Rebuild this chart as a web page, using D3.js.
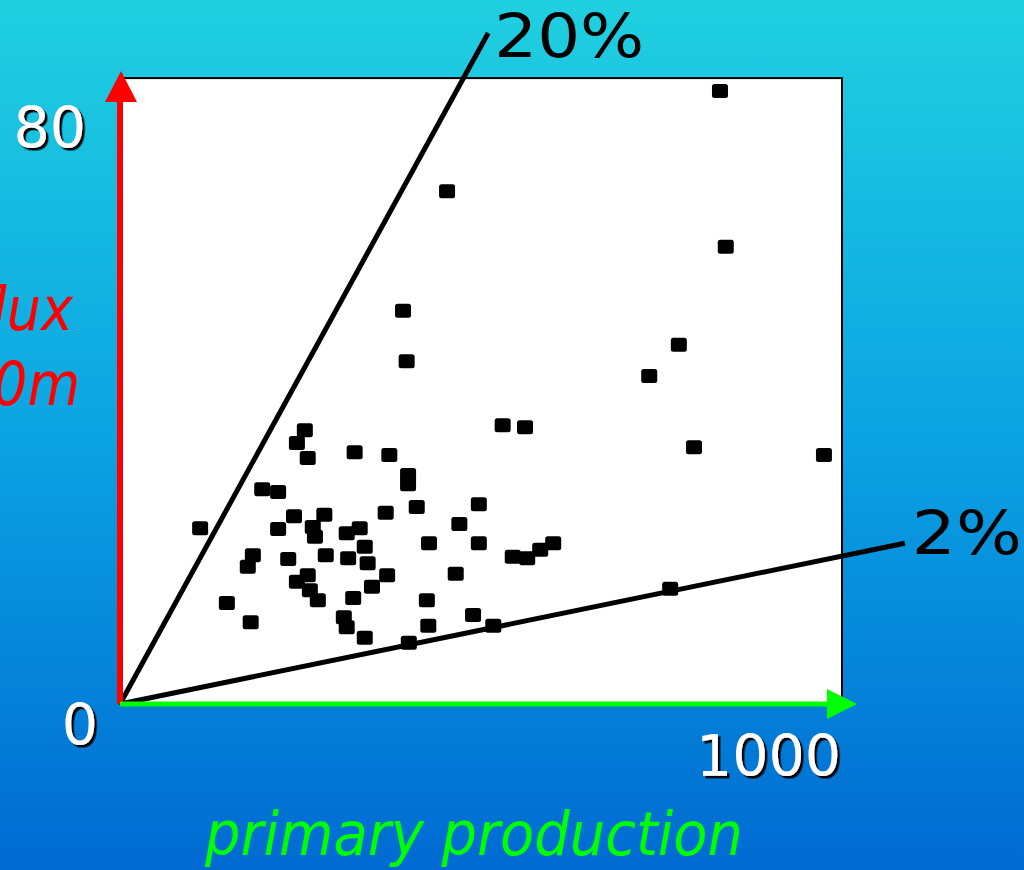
<!DOCTYPE html>
<html>
<head>
<meta charset="utf-8">
<script src="https://cdn.jsdelivr.net/npm/d3@7"></script>
<style>
  html, body { margin: 0; padding: 0; overflow: hidden; }
  svg { display: block; }
  .num { font-family: "DejaVu Sans", Verdana, sans-serif; }
</style>
</head>
<body>
<div id="chart"></div>
<script>
// primary production (x) and flux (y)
var production = [831, 453, 839, 392, 397, 774, 733, 795, 975, 530, 561, 762,
  256, 245, 260, 325, 373, 399, 399, 197, 219, 411, 368, 241, 283, 111, 219,
  267, 270, 314, 332, 428, 184, 177, 233, 285, 316, 339, 343, 370, 349, 245,
  260, 263, 274, 323, 148, 181, 310, 314, 339, 425, 427, 400, 497, 470, 497,
  544, 564, 582, 600, 465, 489, 517];
var flux = [86.2, 72.1, 64.3, 55.3, 48.2, 50.5, 46.1, 36.1, 35.0, 39.2, 38.9, 16.2,
  38.5, 36.7, 34.6, 35.4, 35.0, 32.2, 30.9, 30.2, 29.8, 27.7, 26.9, 26.4, 26.6, 24.7, 24.6,
  24.9, 23.5, 24.0, 24.7, 22.6, 20.9, 19.3, 20.4, 20.9, 20.5, 22.1, 19.8, 18.1, 16.5, 17.2,
  18.1, 16.0, 14.6, 14.9, 14.2, 11.5, 12.2, 10.8, 9.3, 14.6, 11.0, 8.6, 28.1, 25.3, 22.6,
  20.7, 20.5, 21.7, 22.6, 18.3, 12.5, 11.0];

// export ratio lines through the origin
var ratioLabels = ["20%", "2%"];
var ratioSlopes = [0.185, 0.0208];
var ratioEndX = [510, 1087];

// axis tick labels
var xTicks = [0, 1000];
var yTicks = [0, 80];
var yTop = 88;

var width = 1024, height = 870;

var svg = d3.select("#chart")
  .append("svg")
  .attr("width", width)
  .attr("height", height);

var defs = svg.append("defs");

// background gradient
var grad = defs.append("linearGradient")
  .attr("id", "bg")
  .attr("x1", 0).attr("y1", 0).attr("x2", 0).attr("y2", 1);
grad.append("stop").attr("offset", "0%").attr("stop-color", "#20d0e0");
grad.append("stop").attr("offset", "50%").attr("stop-color", "#0ba3e2");
grad.append("stop").attr("offset", "100%").attr("stop-color", "#006ad2");

// black drop shadow for the white tick labels
defs.append("filter")
  .attr("id", "shadow")
  .attr("x", "-10%").attr("y", "-10%").attr("width", "130%").attr("height", "130%")
  .append("feDropShadow")
  .attr("dx", 2.5).attr("dy", 2.5)
  .attr("stdDeviation", 0.4)
  .attr("flood-color", "#000")
  .attr("flood-opacity", 1);

svg.append("rect")
  .attr("width", width)
  .attr("height", height)
  .attr("fill", "url(#bg)");

var x = d3.scaleLinear().domain([0, 1000]).range([120, 842]);
var y = d3.scaleLinear().domain([0, 80]).range([704, 135]);

// white plot box
svg.append("rect")
  .attr("x", x(0))
  .attr("y", y(yTop))
  .attr("width", x(1000) - x(0))
  .attr("height", y(0) - y(yTop))
  .attr("fill", "#fff")
  .attr("stroke", "#000")
  .attr("stroke-width", 2);

// points
svg.append("g")
  .selectAll("rect")
  .data(production)
  .enter()
  .append("rect")
  .attr("x", function(d) { return x(d) - 8; })
  .attr("y", function(d, i) { return y(flux[i]) - 7; })
  .attr("width", 16)
  .attr("height", 14)
  .attr("rx", 2.5)
  .attr("fill", "#000");

// ratio lines
ratioLabels.forEach(function(lab, i) {
  var x2 = ratioEndX[i], y2 = ratioSlopes[i] * x2;
  svg.append("line")
    .attr("x1", x(0)).attr("y1", y(0))
    .attr("x2", x(x2)).attr("y2", y(y2))
    .attr("stroke", "#000")
    .attr("stroke-width", 5);
});

svg.append("text")
  .attr("class", "num")
  .attr("x", x(ratioEndX[0]) + 6)
  .attr("y", y(ratioSlopes[0] * ratioEndX[0]) + 24)
  .attr("font-size", 60)
  .attr("textLength", 150)
  .attr("lengthAdjust", "spacingAndGlyphs")
  .attr("fill", "#000")
  .text(ratioLabels[0]);

svg.append("text")
  .attr("class", "num")
  .attr("x", x(ratioEndX[1]) + 7)
  .attr("y", y(ratioSlopes[1] * ratioEndX[1]) + 11)
  .attr("font-size", 60)
  .attr("textLength", 110)
  .attr("lengthAdjust", "spacingAndGlyphs")
  .attr("fill", "#000")
  .text(ratioLabels[1]);

// y axis arrow (red)
svg.append("line")
  .attr("x1", x(0)).attr("y1", y(0))
  .attr("x2", x(0)).attr("y2", 100)
  .attr("stroke", "#ff0000")
  .attr("stroke-width", 6);
svg.append("path")
  .attr("d", "M" + (x(0) - 15) + ",102L" + (x(0) + 1) + ",71L" + (x(0) + 17) + ",102Z")
  .attr("fill", "#ff0000");

// x axis arrow (green)
svg.append("line")
  .attr("x1", x(0)).attr("y1", y(0))
  .attr("x2", 830).attr("y2", y(0))
  .attr("stroke", "#00ff00")
  .attr("stroke-width", 5);
svg.append("path")
  .attr("d", "M827," + (y(0) - 15) + "L857," + y(0) + "L827," + (y(0) + 15) + "Z")
  .attr("fill", "#00ff00");

// tick labels, white with a black shadow
function tickText(tx, ty, txt) {
  svg.append("text")
    .attr("class", "num")
    .attr("x", tx)
    .attr("y", ty)
    .attr("text-anchor", "end")
    .attr("font-size", 57)
    .attr("fill", "#fff")
    .attr("filter", "url(#shadow)")
    .text(txt);
}
tickText(86, y(yTicks[1]) + 13, yTicks[1]);
tickText(98, y(yTicks[0]) + 41, yTicks[0]);
tickText(x(xTicks[1]) - 1, 776, xTicks[1]);

// axis titles
svg.append("text")
  .attr("x", 205)
  .attr("y", 855)
  .attr("font-family", "'DejaVu Sans', Verdana, sans-serif")
  .attr("font-style", "italic")
  .attr("font-size", 60)
  .attr("textLength", 538)
  .attr("lengthAdjust", "spacingAndGlyphs")
  .attr("fill", "#00ff00")
  .text("primary production");

// y title runs off the left edge, as in the original slide
var yScaleX = 0.9;
var yTitle = svg.append("text")
  .attr("transform", "scale(" + yScaleX + ",1)")
  .attr("text-anchor", "end")
  .attr("font-family", "'DejaVu Sans', Verdana, sans-serif")
  .attr("font-style", "italic")
  .attr("font-size", 60)
  .attr("fill", "#ff0000");
yTitle.append("tspan").attr("x", 73 / yScaleX).attr("y", 330).text("C flux");
yTitle.append("tspan").attr("x", 80 / yScaleX).attr("y", 405).text("at 100m");
</script>
</body>
</html>
